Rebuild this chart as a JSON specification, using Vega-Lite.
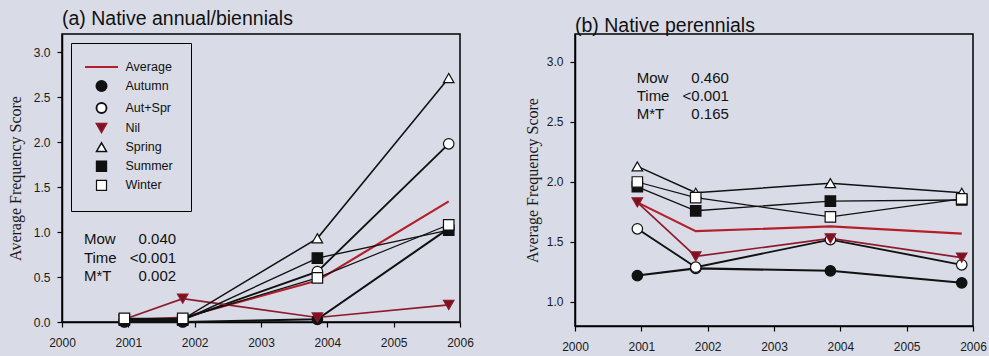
{
  "$schema": "https://vega.github.io/schema/vega-lite/v6.json",
  "background": "#d9dce7",
  "padding": {"left": 6, "top": 8, "right": 5, "bottom": 5},
  "datasets": {
    "a": [
      {"t": "Average", "year": 2000.94, "v": 0.02},
      {"t": "Average", "year": 2001.82, "v": 0.05},
      {"t": "Average", "year": 2003.85, "v": 0.46},
      {"t": "Average", "year": 2005.83, "v": 1.34},
      {"t": "Autumn", "year": 2000.94, "v": 0.0},
      {"t": "Autumn", "year": 2001.82, "v": 0.0},
      {"t": "Autumn", "year": 2003.85, "v": 0.03},
      {"t": "Autumn", "year": 2005.83, "v": 1.04},
      {"t": "Aut+Spr", "year": 2000.94, "v": 0.02},
      {"t": "Aut+Spr", "year": 2001.82, "v": 0.03},
      {"t": "Aut+Spr", "year": 2003.85, "v": 0.56},
      {"t": "Aut+Spr", "year": 2005.83, "v": 1.98},
      {"t": "Nil", "year": 2000.94, "v": 0.03},
      {"t": "Nil", "year": 2001.82, "v": 0.26},
      {"t": "Nil", "year": 2003.85, "v": 0.05},
      {"t": "Nil", "year": 2005.83, "v": 0.19},
      {"t": "Spring", "year": 2000.94, "v": 0.03},
      {"t": "Spring", "year": 2001.82, "v": 0.03},
      {"t": "Spring", "year": 2003.85, "v": 0.93},
      {"t": "Spring", "year": 2005.83, "v": 2.71},
      {"t": "Summer", "year": 2000.94, "v": 0.02},
      {"t": "Summer", "year": 2001.82, "v": 0.02},
      {"t": "Summer", "year": 2003.85, "v": 0.71},
      {"t": "Summer", "year": 2005.83, "v": 1.02},
      {"t": "Winter", "year": 2000.94, "v": 0.04},
      {"t": "Winter", "year": 2001.82, "v": 0.04},
      {"t": "Winter", "year": 2003.85, "v": 0.49},
      {"t": "Winter", "year": 2005.83, "v": 1.08}
    ],
    "b": [
      {"t": "Average", "year": 2000.94, "v": 1.83},
      {"t": "Average", "year": 2001.82, "v": 1.59},
      {"t": "Average", "year": 2003.85, "v": 1.63},
      {"t": "Average", "year": 2005.83, "v": 1.57},
      {"t": "Autumn", "year": 2000.94, "v": 1.22},
      {"t": "Autumn", "year": 2001.82, "v": 1.28},
      {"t": "Autumn", "year": 2003.85, "v": 1.26},
      {"t": "Autumn", "year": 2005.83, "v": 1.16},
      {"t": "Aut+Spr", "year": 2000.94, "v": 1.61},
      {"t": "Aut+Spr", "year": 2001.82, "v": 1.29},
      {"t": "Aut+Spr", "year": 2003.85, "v": 1.52},
      {"t": "Aut+Spr", "year": 2005.83, "v": 1.31},
      {"t": "Nil", "year": 2000.94, "v": 1.83},
      {"t": "Nil", "year": 2001.82, "v": 1.38},
      {"t": "Nil", "year": 2003.85, "v": 1.53},
      {"t": "Nil", "year": 2005.83, "v": 1.37},
      {"t": "Spring", "year": 2000.94, "v": 2.13},
      {"t": "Spring", "year": 2001.82, "v": 1.91},
      {"t": "Spring", "year": 2003.85, "v": 1.99},
      {"t": "Spring", "year": 2005.83, "v": 1.91},
      {"t": "Summer", "year": 2000.94, "v": 1.96},
      {"t": "Summer", "year": 2001.82, "v": 1.76},
      {"t": "Summer", "year": 2003.85, "v": 1.84},
      {"t": "Summer", "year": 2005.83, "v": 1.85},
      {"t": "Winter", "year": 2000.94, "v": 2.0},
      {"t": "Winter", "year": 2001.82, "v": 1.87},
      {"t": "Winter", "year": 2003.85, "v": 1.71},
      {"t": "Winter", "year": 2005.83, "v": 1.86}
    ]
  },
  "spacing": 48,
  "resolve": {"scale": {"shape": "independent", "fill": "independent", "stroke": "independent", "strokeWidth": "independent"}},
  "hconcat": [
    {
      "width": 398,
      "height": 288,
      "title": {"text": "(a) Native annual/biennials", "anchor": "start", "frame": "group", "offset": 4.5, "fontSize": 19.5, "font": "Liberation Sans", "fontWeight": "normal", "color": "#111"},
      "data": {"name": "a"},
      "layer": [
        {
          "mark": {"type": "line"},
          "encoding": {
            "x": {"field": "year", "type": "quantitative", "scale": {"domain": [2000, 2006], "nice": false, "zero": false},
                  "axis": {"values": [2000, 2001, 2002, 2003, 2004, 2005, 2006], "format": "d", "labelFlush": false, "title": null, "grid": false, "labelPadding": 10}},
            "y": {"field": "v", "type": "quantitative", "scale": {"domain": [0, 3.2], "nice": false},
                  "axis": {"values": [0, 0.5, 1, 1.5, 2, 2.5, 3], "format": ".1f", "title": "Average Frequency Score", "titlePadding": 10, "grid": false}},
            "stroke": {"field": "t", "type": "nominal",
                       "scale": {"domain": ["Average", "Autumn", "Aut+Spr", "Nil", "Spring", "Summer", "Winter"], "range": ["#b3202c", "#111111", "#111111", "#8e1b2b", "#111111", "#111111", "#111111"]},
                       "legend": {"title": null, "orient": "top-left", "offset": 9, "padding": 17.5, "symbolOffset": 6.5, "labelOffset": 17.5, "rowPadding": 3.1,
                                  "symbolSize": 100, "labelFontSize": 12.5, "labelFont": "Liberation Sans", "labelColor": "#111", "strokeColor": "black"}},
            "strokeWidth": {"field": "t", "type": "nominal",
                       "scale": {"domain": ["Average", "Autumn", "Aut+Spr", "Nil", "Spring", "Summer", "Winter"], "range": [2.2, 1.2, 1.2, 1, 1.2, 1.2, 1.2]},
                       "legend": {"title": null, "orient": "top-left", "offset": 9, "padding": 17.5, "symbolOffset": 6.5, "labelOffset": 17.5, "rowPadding": 3.1,
                                  "symbolSize": 100, "labelFontSize": 12.5, "labelFont": "Liberation Sans", "labelColor": "#111", "strokeColor": "black"}}
          }
        },
        {
          "transform": [{"filter": "datum.t !== 'Average'"}],
          "mark": {"type": "point", "size": 110, "strokeWidth": 1.2, "opacity": 1},
          "encoding": {
            "x": {"field": "year", "type": "quantitative"},
            "y": {"field": "v", "type": "quantitative"},
            "fill": {"field": "t", "type": "nominal",
                     "scale": {"domain": ["Average", "Autumn", "Aut+Spr", "Nil", "Spring", "Summer", "Winter"], "range": ["#b3202c", "#111111", "white", "#7d1021", "white", "#111111", "white"]},
                     "legend": {"title": null, "orient": "top-left", "offset": 9, "padding": 17.5, "symbolOffset": 6.5, "labelOffset": 17.5, "rowPadding": 3.1,
                                "symbolSize": 100, "labelFontSize": 12.5, "labelFont": "Liberation Sans", "labelColor": "#111", "strokeColor": "black"}},
            "shape": {"field": "t", "type": "nominal",
                      "scale": {"domain": ["Average", "Autumn", "Aut+Spr", "Nil", "Spring", "Summer", "Winter"], "range": ["M-3.3,0H3.3", "circle", "circle", "triangle-down", "triangle-up", "square", "square"]},
                      "legend": {"title": null, "orient": "top-left", "offset": 9, "padding": 17.5, "symbolOffset": 6.5, "labelOffset": 17.5, "rowPadding": 3.1,
                                 "symbolSize": 100, "labelFontSize": 12.5, "labelFont": "Liberation Sans", "labelColor": "#111", "strokeColor": "black"}},
            "stroke": {"field": "t", "type": "nominal",
                       "scale": {"domain": ["Average", "Autumn", "Aut+Spr", "Nil", "Spring", "Summer", "Winter"], "range": ["#b3202c", "#111111", "#111111", "#7d1021", "#111111", "#111111", "#111111"]},
                       "legend": {"title": null, "orient": "top-left", "offset": 9, "padding": 17.5, "symbolOffset": 6.5, "labelOffset": 17.5, "rowPadding": 3.1,
                                  "symbolSize": 100, "labelFontSize": 12.5, "labelFont": "Liberation Sans", "labelColor": "#111", "strokeColor": "black"}}
          }
        },
        {
          "data": {"values": [{"lab": ["Mow", "Time", "M*T"]}]},
          "mark": {"type": "text", "align": "left", "fontSize": 15, "lineHeight": 18.5, "font": "Liberation Sans", "fill": "#111111"},
          "encoding": {"x": {"datum": 2000.33}, "y": {"datum": 0.92}, "text": {"field": "lab"}}
        },
        {
          "data": {"values": [{"lab": ["0.040", "<0.001", "0.002"]}]},
          "mark": {"type": "text", "align": "right", "fontSize": 15, "lineHeight": 18.5, "font": "Liberation Sans", "fill": "#111111"},
          "encoding": {"x": {"datum": 2001.72}, "y": {"datum": 0.92}, "text": {"field": "lab"}}
        }
      ]
    },
    {
      "width": 398,
      "height": 292,
      "title": {"text": "(b) Native perennials", "anchor": "start", "frame": "group", "offset": -2, "fontSize": 19.5, "font": "Liberation Sans", "fontWeight": "normal", "color": "#111"},
      "data": {"name": "b"},
      "layer": [
        {
          "mark": {"type": "line"},
          "encoding": {
            "x": {"field": "year", "type": "quantitative", "scale": {"domain": [2000, 2006], "nice": false, "zero": false},
                  "axis": {"values": [2000, 2001, 2002, 2003, 2004, 2005, 2006], "format": "d", "labelFlush": false, "title": null, "grid": false, "labelPadding": 10}},
            "y": {"field": "v", "type": "quantitative", "scale": {"domain": [0.8, 3.233], "nice": false, "zero": false},
                  "axis": {"values": [1, 1.5, 2, 2.5, 3], "format": ".1f", "title": "Average Frequency Score", "titlePadding": 6, "grid": false}},
            "stroke": {"field": "t", "type": "nominal", "legend": null,
                       "scale": {"domain": ["Average", "Autumn", "Aut+Spr", "Nil", "Spring", "Summer", "Winter"], "range": ["#b3202c", "#111111", "#111111", "#8e1b2b", "#111111", "#111111", "#111111"]}},
            "strokeWidth": {"field": "t", "type": "nominal", "legend": null,
                       "scale": {"domain": ["Average", "Autumn", "Aut+Spr", "Nil", "Spring", "Summer", "Winter"], "range": [2.2, 1.2, 1.2, 1, 1.2, 1.2, 1.2]}}
          }
        },
        {
          "transform": [{"filter": "datum.t !== 'Average'"}],
          "mark": {"type": "point", "size": 110, "strokeWidth": 1.2, "opacity": 1},
          "encoding": {
            "x": {"field": "year", "type": "quantitative"},
            "y": {"field": "v", "type": "quantitative"},
            "fill": {"field": "t", "type": "nominal", "legend": null,
                     "scale": {"domain": ["Average", "Autumn", "Aut+Spr", "Nil", "Spring", "Summer", "Winter"], "range": ["#b3202c", "#111111", "white", "#7d1021", "white", "#111111", "white"]}},
            "shape": {"field": "t", "type": "nominal", "legend": null,
                      "scale": {"domain": ["Average", "Autumn", "Aut+Spr", "Nil", "Spring", "Summer", "Winter"], "range": ["circle", "circle", "circle", "triangle-down", "triangle-up", "square", "square"]}},
            "stroke": {"field": "t", "type": "nominal", "legend": null,
                       "scale": {"domain": ["Average", "Autumn", "Aut+Spr", "Nil", "Spring", "Summer", "Winter"], "range": ["#b3202c", "#111111", "#111111", "#7d1021", "#111111", "#111111", "#111111"]}}
          }
        },
        {
          "data": {"values": [{"lab": ["Mow", "Time", "M*T"]}]},
          "mark": {"type": "text", "align": "left", "fontSize": 15, "lineHeight": 18, "font": "Liberation Sans", "fill": "#111111"},
          "encoding": {"x": {"datum": 2000.93}, "y": {"datum": 2.87}, "text": {"field": "lab"}}
        },
        {
          "data": {"values": [{"lab": ["0.460", "<0.001", "0.165"]}]},
          "mark": {"type": "text", "align": "right", "fontSize": 15, "lineHeight": 18, "font": "Liberation Sans", "fill": "#111111"},
          "encoding": {"x": {"datum": 2002.32}, "y": {"datum": 2.87}, "text": {"field": "lab"}}
        }
      ]
    }
  ],
  "config": {
    "view": {"stroke": "black", "strokeWidth": 1.5},
    "axis": {
      "domainColor": "black", "domainWidth": 1.5, "tickColor": "black", "tickWidth": 1.2, "tickSize": 5,
      "labelColor": "#1a1a1a", "labelFont": "Liberation Sans", "labelFontSize": 12, "labelPadding": 7,
      "titleFont": "Liberation Serif", "titleFontSize": 16, "titleFontWeight": "normal", "titleColor": "#1a1a1a"
    }
  }
}
